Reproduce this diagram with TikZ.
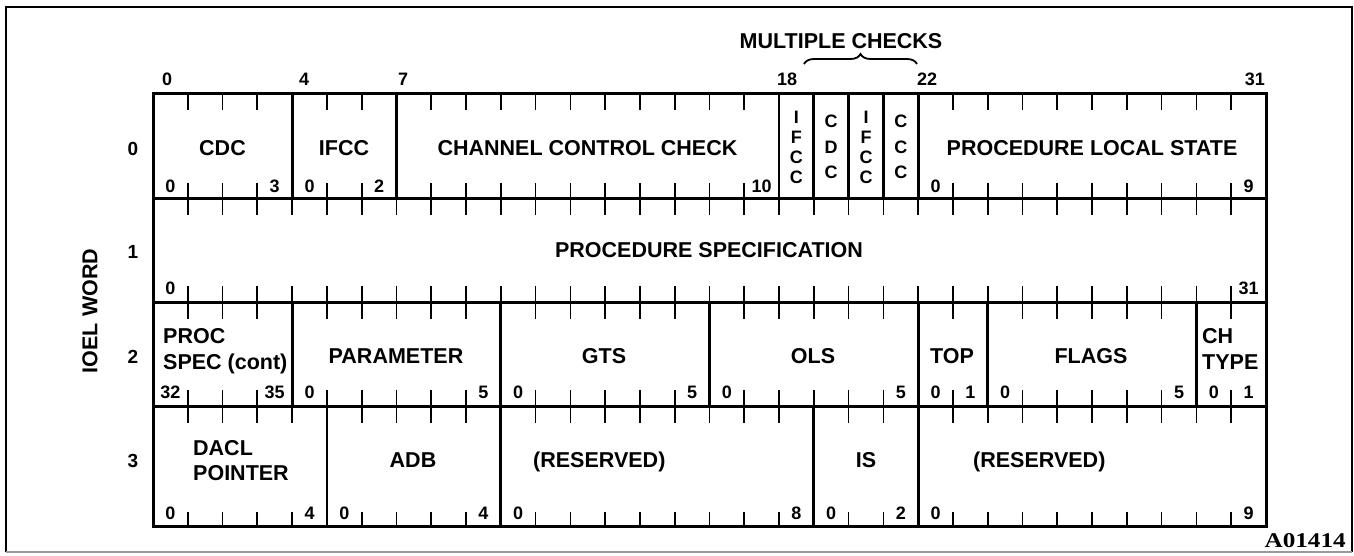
\documentclass[tikz,border=0pt]{standalone}
\usepackage{fontspec}
\setmainfont{Liberation Sans}
\newfontfamily\serifbold{Liberation Serif}
\usetikzlibrary{decorations.pathreplacing}
\newcommand\bitx[1]{153+34.78*(#1)}
\begin{document}
\begin{tikzpicture}[x=1pt,y=-1pt,
  lbl/.style={font=\fontsize{21.5}{24}\selectfont\bfseries, inner sep=0pt, anchor=base},
  lblw/.style={lbl, anchor=base west},
  num/.style={font=\fontsize{18}{20}\selectfont\bfseries, inner sep=0pt, anchor=base},
  vlet/.style={font=\fontsize{18}{#1}\selectfont\bfseries, inner sep=0pt, align=center},
  tickline/.style={line width=1.7pt},
  divline/.style={line width=2.8pt},
  frameline/.style={line width=2pt}]
\useasboundingbox (0,0) rectangle (1354,555);
% outer frame
\draw[frameline] (6,552) -- (6,7) -- (1352,7) -- (1352,552);
\draw[frameline, black!40] (6,552) -- (1352,552);
% table outline and rows
\draw[line width=3pt] (153,93) rectangle (1266,526);
\foreach \y in {198,302,406} \draw[line width=3pt] (153,\y) -- (1266,\y);
% field dividers
\foreach \b in {4,7,18,19,20,21,22} \draw[divline] ({\bitx{\b}},93) -- ({\bitx{\b}},198);
\foreach \b in {4,10,16,22,24,30} \draw[divline] ({\bitx{\b}},302) -- ({\bitx{\b}},406);
\foreach \b in {5,10,19,22} \draw[divline] ({\bitx{\b}},406) -- ({\bitx{\b}},526);
% ticks
\foreach \b in {1,2,3,5,6,8,9,10,11,12,13,14,15,16,17,23,24,25,26,27,28,29,30,31}
  {\draw[tickline] ({\bitx{\b}},93) -- ++(0,17); \draw[tickline] ({\bitx{\b}},198) -- ++(0,-15);}
\foreach \b in {1,...,31}
  {\draw[tickline] ({\bitx{\b}},198) -- ++(0,17); \draw[tickline] ({\bitx{\b}},302) -- ++(0,-16);}
\foreach \b in {1,2,3,5,6,7,8,9,11,12,13,14,15,17,18,19,20,21,23,25,26,27,28,29,31}
  {\draw[tickline] ({\bitx{\b}},302) -- ++(0,17); \draw[tickline] ({\bitx{\b}},406) -- ++(0,-16);}
\foreach \b in {1,2,3,4,6,7,8,9,11,12,13,14,15,16,17,18,20,21,23,24,25,26,27,28,29,30,31}
  {\draw[tickline] ({\bitx{\b}},406) -- ++(0,17); \draw[tickline] ({\bitx{\b}},526) -- ++(0,-14);}
% top bit numbers
\node[num, anchor=base west] (t0) at (162,85) {0};
\node[num, anchor=base west] (t4) at (299,85) {4};
\node[num, anchor=base west] (t7) at (398,85) {7};
\node[num, anchor=base west] (t18) at (777,85) {18};
\node[num, anchor=base west] (t22) at (917,85) {22};
\node[num, anchor=base east] (t31) at (1265,85) {31};
% multiple checks
\node[lbl] (mc) at (841,48) {MULTIPLE CHECKS};
\coordinate (brL) at (804,64);
\coordinate (brR) at (917,64);
\draw[decorate, decoration={brace, amplitude=10pt}, line width=1.8pt] (brL) -- (brR);
% row labels
\node[lbl, rotate=90, anchor=center] (ioel) at (90,311) {IOEL WORD};
\node[num, font=\fontsize{19}{20}\selectfont\bfseries] (w0) at (133,155) {0};
\node[num, font=\fontsize{19}{20}\selectfont\bfseries] (w1) at (133,258) {1};
\node[num, font=\fontsize{19}{20}\selectfont\bfseries] (w2) at (133,363) {2};
\node[num, font=\fontsize{19}{20}\selectfont\bfseries] (w3) at (133,467) {3};
% row 0
\node[lbl] (cdc) at (222.5,155) {CDC};
\node[lbl] (ifcc) at (344,155) {IFCC};
\node[lbl] (ccc) at (587.5,155) {CHANNEL CONTROL CHECK};
\node[lbl] (pls) at (1092,155) {PROCEDURE LOCAL STATE};
\node[vlet=20] (m1) at ({\bitx{18.5}},147) {I\\F\\C\\C};
\node[vlet=25.5] (m2) at ({\bitx{19.5}},147) {C\\D\\C};
\node[vlet=20] (m3) at ({\bitx{20.5}},147) {I\\F\\C\\C};
\node[vlet=25.5] (m4) at ({\bitx{21.5}},147) {C\\C\\C};
\foreach \b/\t [count=\i] in {0/0,3/3,4/0,6/2,17/10,22/0,31/9}
  \node[num] (ba\i) at ({\bitx{\b+0.5}},192) {\t};
% row 1
\node[lbl] (ps) at (709,257) {PROCEDURE SPECIFICATION};
\foreach \b/\t [count=\i] in {0/0,31/31}
  \node[num] (bb\i) at ({\bitx{\b+0.5}},294) {\t};
% row 2
\node[lblw] (proc) at (163,343) {PROC};
\node[lblw] (spec) at (163,369) {SPEC (cont)};
\node[lbl] (param) at (396,363) {PARAMETER};
\node[lbl] (gts) at (604,363) {GTS};
\node[lbl] (ols) at (813,363) {OLS};
\node[lbl] (top) at (952,363) {TOP};
\node[lbl] (flags) at (1091,363) {FLAGS};
\node[lblw] (ch) at (1202,343) {CH};
\node[lblw] (type) at (1202,369) {TYPE};
\foreach \b/\t [count=\i] in {0/32,3/35,4/0,9/5,10/0,15/5,16/0,21/5,22/0,23/1,24/0,29/5,30/0,31/1}
  \node[num] (bc\i) at ({\bitx{\b+0.5}},398) {\t};
% row 3
\node[lblw] (dacl) at (193,455) {DACL};
\node[lblw] (ptr) at (193,480) {POINTER};
\node[lbl] (adb) at (413,467) {ADB};
\node[lblw] (res1) at (533,467) {(RESERVED)};
\node[lbl] (is) at (866,467) {IS};
\node[lblw] (res2) at (973,467) {(RESERVED)};
\foreach \b/\t [count=\i] in {0/0,4/4,5/0,9/4,10/0,18/8,19/0,21/2,22/0,31/9}
  \node[num] (bd\i) at ({\bitx{\b+0.5}},519) {\t};
% figure id
\node[font=\serifbold\bfseries\fontsize{21}{24}\selectfont, inner sep=0pt, xscale=1.2, anchor=base east] (fid) at (1346,547) {A01414};
\end{tikzpicture}
\end{document}
